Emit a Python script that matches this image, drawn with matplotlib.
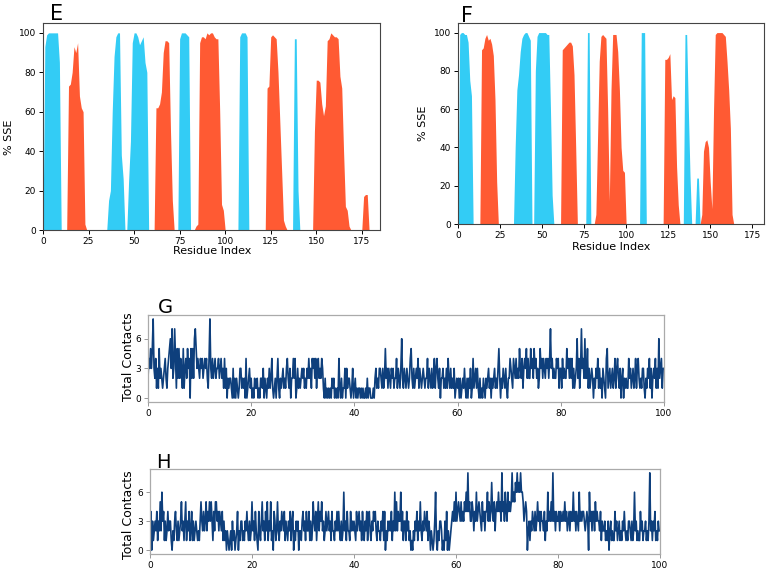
import numpy as np
import matplotlib
matplotlib.use("Agg")
import matplotlib.pyplot as plt

# SSE profiles, (first residue, % values) per element
e_strand = [(1, [93, 99, 100, 100, 100, 100, 100, 100, 85]),
            (35, [0, 15, 20, 60, 88, 98, 100, 100, 38, 26]),
            (46, [0, 25, 45, 95, 100, 100, 98, 94, 96, 98, 85, 80]),
            (75, [97, 100, 100, 100, 99, 98]),
            (108, [98, 100, 100, 100, 98]),
            (138, [97, 97, 20])]
e_helix = [(14, [73, 74, 80, 93, 90, 95, 68, 62, 60, 3]),
           (62, [62, 62, 64, 70, 90, 96, 96, 95, 50, 15]),
           (84, [2, 3, 95, 98, 98, 97, 100, 99, 100, 100, 98, 97, 97, 60, 13, 10]),
           (123, [72, 73, 98, 99, 98, 97, 80, 55, 30, 5, 2]),
           (149, [50, 76, 76, 75, 64, 58, 63, 96, 97, 100, 99, 98, 98, 97, 78, 72, 40, 12, 10, 2]),
           (176, [17, 18, 18])]

f_strand = [(1, [99, 100, 100, 99, 99, 95, 75, 67]),
            (34, [40, 70, 78, 90, 97, 99, 100, 100, 98, 96]),
            (46, [80, 98, 100, 100, 100, 100, 100, 99, 99, 60, 15]),
            (77, [100, 100]),
            (109, [100, 100, 100]),
            (135, [99, 99, 60, 25]),
            (142, [24, 24])]
f_helix = [(14, [91, 92, 97, 99, 96, 97, 94, 88, 65, 22]),
           (62, [91, 92, 93, 94, 95, 95, 93, 78, 40]),
           (82, [5, 45, 85, 98, 99, 98, 97, 60, 12, 70, 99, 99, 99, 90, 70, 40, 28, 27]),
           (123, [86, 86, 87, 89, 65, 67, 66, 30, 10]),
           (145, [5, 38, 43, 44, 40, 22, 8, 60, 99, 100, 100, 100, 100, 99, 98, 85, 70, 50, 5])]

# total contacts, 6 frames per ns over 100 ns (one group of digits per ns)
g_text = """
243535 832413 152321 234213 456372 374152 524315 134253 405252 675343
243423 434214 832423 423342 342314 130212 210302 021013 312120 401231
201021 120102 213021 021312 410120 241021 231213 421302 242401 312123
231213 242314 342413 423243 102010 101021 201010 410201 130312 210130
120101 101010 010201 100010 231213 321312 523132 132312 241321 362132
132124 521312 324132 123212 241321 312413 421302 231213 142131 213012
120201 213102 021301 412313 102010 210212 312021 231213 520213 213102
243214 324232 532413 435242 253425 342312 534243 243424 734232 243413
314232 253424 241312 362413 734262 251312 320213 241312 032104 512312
312413 421302 302121 142312 312413 421213 310213 241302 324131 623413
3
"""
h_text = """
240312 324132 526341 312423 310213 421312 352313 513241 241312 321213
532423 524353 531425 534243 241312 021012 031201 240213 312132 421312
523142 104213 523142 513251 204312 521324 324132 132413 402132 302213
423142 241312 532413 524352 312423 423142 213242 421312 623142 214232
321423 423142 132413 421324 342132 213241 402132 324132 625243 362413
314231 201021 324132 521324 324132 021013 610213 320103 140201 234353
634543 534354 648453 354243 634543 253424 463534 743524 546453 845364
364545 856576 867686 653454 023132 432423 534243 324132 634353 834243
342433 435342 342433 634243 263434 432343 063424 425343 324132 231213
023121 142312 312132 421213 321312 623121 142312 231213 823132 412132
2
"""
g_contacts = [int(c) for c in "".join(g_text.split())]
h_contacts = [int(c) for c in "".join(h_text.split())]

blue = "#33ccf5"
orange = "#ff5a33"
navy = "#0e3f7c"


def profile(segments, n=190):
    y = np.zeros(n)
    for start, vals in segments:
        y[start:start + len(vals)] = vals
    return y


fig = plt.figure(figsize=(7.68, 5.79), dpi=100)
W, H = 768, 579


def box(l, t, r, b):
    return [l / W, (H - b) / H, (r - l) / W, (b - t) / H]


def sse_panel(rect, strand, helix, xmax, letter, lx, ly, ylx, yly, xlx, xly):
    ax = fig.add_axes(rect)
    res = np.arange(190)
    ax.fill_between(res, 0, profile(strand), color=blue, lw=0)
    ax.fill_between(res, 0, profile(helix), color=orange, lw=0)
    ax.set_xlim(0, xmax)
    ax.set_ylim(0, 105)
    ax.set_xticks([0, 25, 50, 75, 100, 125, 150, 175])
    ax.set_yticks([0, 20, 40, 60, 80, 100])
    ax.tick_params(labelsize=6.5, length=3, width=0.7, pad=2)
    for s in ax.spines.values():
        s.set_color("#444444")
        s.set_linewidth(0.8)
    fig.text(lx / W, 1 - ly / H, letter, fontsize=15, va="baseline")
    fig.text(ylx / W, 1 - yly / H, "% SSE", fontsize=8, rotation=90,
             ha="center", va="center")
    fig.text(xlx / W, 1 - xly / H, "Residue Index", fontsize=8,
             ha="center", va="center")


sse_panel(box(43, 23, 380, 230), e_strand, e_helix, 185, "E", 50, 20, 9, 137, 212, 251)
sse_panel(box(458, 23, 764, 224), f_strand, f_helix, 182, "F", 461, 22, 423, 123, 611, 247)


def contact_panel(rect, vals, letter, lx, ly, ylx, yly):
    ax = fig.add_axes(rect)
    t = np.arange(len(vals)) / 6.0
    ax.plot(t, vals, color=navy, lw=1.2)
    ax.set_xlim(0, 100)
    ax.set_ylim(-0.4, 8.4)
    ax.set_xticks([0, 20, 40, 60, 80, 100])
    ax.set_yticks([0, 3, 6])
    ax.tick_params(labelsize=6.5, length=3, width=0.6, pad=2, color="#888888")
    for s in ax.spines.values():
        s.set_color("#aaaaaa")
        s.set_linewidth(0.9)
    fig.text(lx / W, 1 - ly / H, letter, fontsize=14, va="baseline")
    fig.text(ylx / W, 1 - yly / H, "Total Contacts", fontsize=9, rotation=90,
             ha="center", va="center")


contact_panel(box(148, 315, 664, 402), g_contacts, "G", 158, 313, 128, 357)
contact_panel(box(150, 469, 660, 554), h_contacts, "H", 156, 468, 128, 515)

fig.savefig("out.png", dpi=100)
